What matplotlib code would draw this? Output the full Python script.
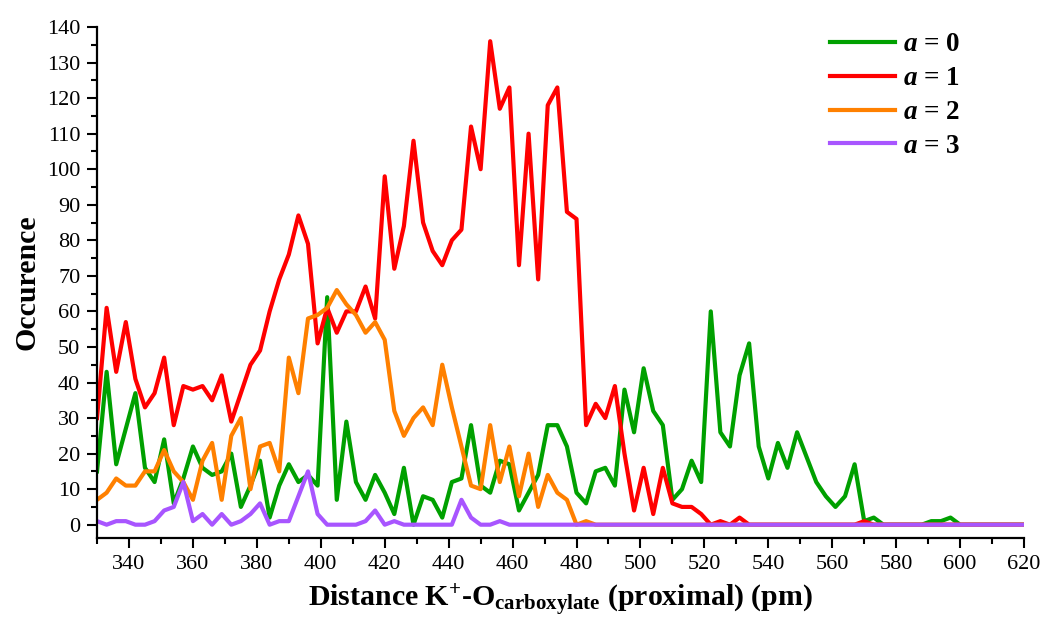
import numpy as np
import matplotlib
matplotlib.use("Agg")
from matplotlib import pyplot as plt
from matplotlib.ticker import MultipleLocator

# K+ - O(carboxylate) distance grid, 3 pm bins
distance = np.arange(330, 622, 3)

# occurrence counts
a0 = [15, 43, 17, 27, 37, 16, 12, 24, 6, 13,
      22, 16, 14, 15, 20, 5, 11, 18, 2, 11,
      17, 12, 14, 11, 64, 7, 29, 12, 7, 14,
      9, 3, 16, 0, 8, 7, 2, 12, 13, 28,
      11, 9, 18, 17, 4, 9, 14, 28, 28, 22,
      9, 6, 15, 16, 11, 38, 26, 44, 32, 28,
      7, 10, 18, 12, 60, 26, 22, 42, 51, 22,
      13, 23, 16, 26, 19, 12, 8, 5, 8, 17,
      1, 2, 0, 0, 0, 0, 0, 1, 1, 2,
      0, 0, 0, 0, 0, 0, 0, 0]
a1 = [30, 61, 43, 57, 41, 33, 37, 47, 28, 39,
      38, 39, 35, 42, 29, 37, 45, 49, 60, 69,
      76, 87, 79, 51, 61, 54, 60, 60, 67, 58,
      98, 72, 84, 108, 85, 77, 73, 80, 83, 112,
      100, 136, 117, 123, 73, 110, 69, 118, 123, 88,
      86, 28, 34, 30, 39, 20, 4, 16, 3, 16,
      6, 5, 5, 3, 0, 1, 0, 2, 0, 0,
      0, 0, 0, 0, 0, 0, 0, 0, 0, 0,
      1, 0, 0, 0, 0, 0, 0, 0, 0, 0,
      0, 0, 0, 0, 0, 0, 0, 0]
a2 = [7, 9, 13, 11, 11, 15, 15, 21, 15, 12,
      7, 18, 23, 7, 25, 30, 10, 22, 23, 15,
      47, 37, 58, 59, 61, 66, 62, 59, 54, 57,
      52, 32, 25, 30, 33, 28, 45, 33, 22, 11,
      10, 28, 12, 22, 8, 20, 5, 14, 9, 7,
      0, 1, 0, 0, 0, 0, 0, 0, 0, 0,
      0, 0, 0, 0, 0, 0, 0, 0, 0, 0,
      0, 0, 0, 0, 0, 0, 0, 0, 0, 0,
      0, 0, 0, 0, 0, 0, 0, 0, 0, 0,
      0, 0, 0, 0, 0, 0, 0, 0]
a3 = [1, 0, 1, 1, 0, 0, 1, 4, 5, 12,
      1, 3, 0, 3, 0, 1, 3, 6, 0, 1,
      1, 8, 15, 3, 0, 0, 0, 0, 1, 4,
      0, 1, 0, 0, 0, 0, 0, 0, 7, 2,
      0, 0, 1, 0, 0, 0, 0, 0, 0, 0,
      0, 0, 0, 0, 0, 0, 0, 0, 0, 0,
      0, 0, 0, 0, 0, 0, 0, 0, 0, 0,
      0, 0, 0, 0, 0, 0, 0, 0, 0, 0,
      0, 0, 0, 0, 0, 0, 0, 0, 0, 0,
      0, 0, 0, 0, 0, 0, 0, 0]

series = [a0, a1, a2, a3]
labels = ["$a$ = 0", "$a$ = 1", "$a$ = 2", "$a$ = 3"]
colors = ["#00A000", "#FF0000", "#FF8000", "#A855FF"]

plt.rcParams['font.family'] = ['Liberation Serif', 'DejaVu Serif']
plt.rcParams['mathtext.fontset'] = 'custom'
plt.rcParams['mathtext.rm'] = 'Liberation Serif:bold'
plt.rcParams['mathtext.bf'] = 'Liberation Serif:bold'
plt.rcParams['mathtext.it'] = 'Liberation Serif:italic:bold'

fig = plt.figure(figsize=(10.49, 6.18), dpi=100)
ax = fig.add_axes([0.0925, 0.1294, 0.8837, 0.8269])

for ys, lab, col in zip(series, labels, colors):
  ax.plot(distance, ys, color=col, lw=3, label=lab)

ax.set_xlim(330, 620)
ax.set_ylim(-3.75, 140)
ax.xaxis.set_major_locator(MultipleLocator(20))
ax.xaxis.set_minor_locator(MultipleLocator(10))
ax.yaxis.set_major_locator(MultipleLocator(10))
ax.yaxis.set_minor_locator(MultipleLocator(5))

for side in ['top', 'right']:
  ax.spines[side].set_visible(False)
for side in ['left', 'bottom']:
  ax.spines[side].set_linewidth(1.6)

ax.tick_params(which='major', length=7, width=1.5, direction='out', labelsize=16, pad=5)
ax.tick_params(which='minor', length=4, width=1.5, direction='out')

ax.set_xlabel("Distance K$^{\\mathbf{+}}$-O$_{\\mathbf{carboxylate}}$ (proximal) (pm)",
              fontsize=21.5, fontweight='bold', labelpad=6)
ax.set_ylabel("Occurence", fontsize=21.5, fontweight='bold', labelpad=5)

ax.legend(loc='upper left', bbox_to_anchor=(0.791, 0.99), frameon=False,
          prop={'weight': 'bold', 'size': 19.5}, handlelength=2.4,
          handletextpad=0.3, labelspacing=0.33, borderpad=0, borderaxespad=0)

fig.savefig("out.png", dpi=100)
